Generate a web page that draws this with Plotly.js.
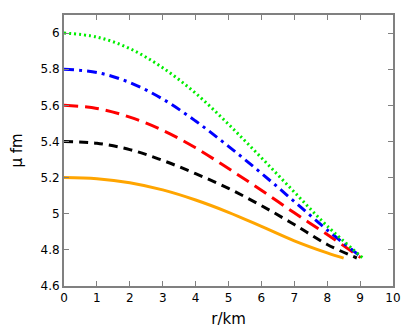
<!DOCTYPE html>
<html>
<head>
<meta charset="utf-8">
<script src="https://cdn.plot.ly/plotly-3.0.1.min.js"></script>
<style>html,body{margin:0;padding:0;background:#fff;}#chart{width:415px;height:331px;}</style>
</head>
<body>
<div id="chart"></div>
<script>
// r/km positions and μ fm values
const rGreen = [0, 1, 2, 3, 4, 5, 6, 7, 8, 9.07];
const muGreen = [6.0, 5.978, 5.914, 5.808, 5.667, 5.495, 5.31, 5.12, 4.932, 4.757];

const rBlue = [0, 1, 2, 3, 4, 5, 6, 7, 8, 9.06];
const muBlue = [5.8, 5.782, 5.726, 5.635, 5.513, 5.373, 5.224, 5.068, 4.91, 4.757];

const rRed = [0, 1, 2, 3, 4, 5, 6, 7, 8, 9.02];
const muRed = [5.6, 5.583, 5.535, 5.462, 5.365, 5.25, 5.13, 5.005, 4.885, 4.757];

const rBlack = [0, 1, 2, 3, 4, 5, 6, 7, 8, 8.9];
const muBlack = [5.4, 5.39, 5.355, 5.295, 5.222, 5.14, 5.045, 4.94, 4.83, 4.755];

const rOrange = [0, 1, 2, 3, 4, 5, 6, 7, 8, 8.5];
const muOrange = [5.2, 5.194, 5.172, 5.132, 5.076, 5.008, 4.93, 4.85, 4.783, 4.754];

const xTicks = [0, 1, 2, 3, 4, 5, 6, 7, 8, 9, 10];
const yTicks = [4.6, 4.8, 5, 5.2, 5.4, 5.6, 5.8, 6];
const yTickText = ["4.6", "4.8", "5", "5.2", "5.4", "5.6", "5.8", "6"];

function tr(x, y, color, dash) {
  return {x: x, y: y, type: 'scatter', mode: 'lines',
    line: {color: color, width: 3, dash: dash, shape: 'spline', smoothing: 1}, showlegend: false, hoverinfo: 'skip'};
}

const data = [
  tr(rOrange, muOrange, '#ffa500', 'solid'),
  tr(rBlack, muBlack, '#000000', '9px,6px'),
  tr(rRed, muRed, '#ff0000', '14px,7px'),
  tr(rBlue, muBlue, '#0000ff', '10px,5px,3px,5px'),
  tr(rGreen, muGreen, '#00ee00', '2px,3px')
];

const axisCommon = {
  showline: true, linecolor: '#808080', linewidth: 2, mirror: 'ticks',
  ticks: 'inside', ticklen: 5, tickwidth: 1, tickcolor: '#808080',
  showgrid: false, zeroline: false,
  tickfont: {family: 'DejaVu Sans', size: 12, color: '#000'}
};

const layout = {
  width: 415, height: 331,
  margin: {l: 64, r: 22, t: 15, b: 45},
  paper_bgcolor: '#fff', plot_bgcolor: '#fff',
  xaxis: Object.assign({}, axisCommon, {
    range: [0, 10], tickvals: xTicks, ticktext: xTicks.map(String),
    title: {text: 'r/km', font: {family: 'DejaVu Sans', size: 15, color: '#000'}, standoff: 9}
  }),
  yaxis: Object.assign({}, axisCommon, {
    range: [4.6, 6.1], tickvals: yTicks, ticktext: yTickText,
    title: {text: 'μ fm', font: {family: 'DejaVu Sans', size: 15, color: '#000'}, standoff: 14}
  })
};

Plotly.newPlot('chart', data, layout, {staticPlot: true, displayModeBar: false});
</script>
</body>
</html>
